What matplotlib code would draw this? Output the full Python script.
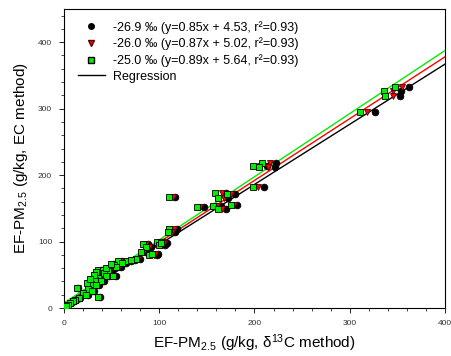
import matplotlib
matplotlib.use("Agg")
import matplotlib.pyplot as plt
from matplotlib.lines import Line2D
from matplotlib.ticker import MultipleLocator

plt.rcParams['font.family'] = ['Liberation Sans', 'DejaVu Sans']
plt.rcParams['mathtext.fontset'] = 'custom'
plt.rcParams['mathtext.rm'] = 'Liberation Sans'
plt.rcParams['mathtext.it'] = 'Liberation Sans:italic'

# EF-PM2.5 by EC method (y) and by d13C method for three end-member values (x)
ec = [332, 326, 319, 295, 218, 212, 213, 182, 167, 173, 165, 172, 153, 149, 155, 152,
      119, 114, 96, 92, 99, 95, 98, 84, 80, 82, 74, 71, 71, 72, 68, 65, 62, 57, 57, 55,
      52, 48, 45, 42, 40, 36, 34, 30, 28, 25, 22, 20, 17, 15, 12, 10, 7, 5, 3, 48, 60, 38,
      54, 50, 44, 66]
x_269 = [362, 354, 353, 326, 223, 222, 213, 210, 117, 170, 172, 180, 165, 170, 182, 147,
         119, 117, 88, 91, 104, 106, 108, 86, 98, 99, 80, 61, 70, 75, 65, 56, 60, 39, 43, 50,
         44, 47, 38, 35, 42, 30, 37, 15, 27, 31, 22, 25, 38, 17, 13, 10, 7, 4, 2, 55, 47, 26,
         36, 33, 29, 52]
x_260 = [355, 345, 345, 318, 216, 214, 206, 204, 114, 166, 168, 175, 161, 166, 179, 143,
         115, 113, 86, 89, 101, 103, 105, 84, 94, 96, 78, 59, 68, 73, 63, 54, 58, 38, 42, 48,
         43, 46, 37, 34, 41, 29, 36, 14.6, 26, 30, 21, 24, 37, 16.5, 12.6, 9.7, 6.8, 3.9, 1.9, 53, 46, 25,
         35, 32, 28, 50]
x_250 = [348, 336, 337, 311, 208, 205, 198, 198, 110, 159, 162, 171, 156, 162, 175, 140,
         110, 109, 83, 86, 98, 100, 102, 81, 89, 92, 76, 57, 66, 70, 61, 52, 55, 36, 41, 46,
         42, 44, 36, 33, 39, 28, 34, 14, 25, 29, 20, 23, 36, 16, 12, 9.4, 6.5, 3.7, 1.8, 51, 44, 24,
         34, 31, 27, 49]

labels = ['-26.9 \u2030 (y=0.85x + 4.53, r\u00b2=0.93)',
          '-26.0 \u2030 (y=0.87x + 5.02, r\u00b2=0.93)',
          '-25.0 \u2030 (y=0.89x + 5.64, r\u00b2=0.93)']
# regression lines as drawn in the chart
line_slopes = [0.905, 0.93, 0.95]
line_intercepts = [5.0, 6.0, 7.5]
line_x = [0, 400]

fig = plt.figure(figsize=(4.52, 3.56), dpi=100)
ax = fig.add_axes([0.1416, 0.1348, 0.8429, 0.84])

line_colors = ['black', 'red', '#00ee00']
for s, b, c in zip(line_slopes, line_intercepts, line_colors):
    ax.plot(line_x, [s * v + b for v in line_x], color=c, lw=1.0, zorder=2)

ax.plot(x_269, ec, 'o', ms=4.8, mfc='black', mec='black', mew=0.6, zorder=3)
ax.plot(x_260, ec, 'v', ms=4.8, mfc='red', mec='#550000', mew=0.6, zorder=4)
ax.plot(x_250, ec, 's', ms=4.8, mfc='#00ee00', mec='black', mew=0.6, zorder=5)

ax.set_xlim(0, 400)
ax.set_ylim(0, 450)
ax.set_xticks([0, 100, 200, 300, 400])
ax.set_yticks([0, 100, 200, 300, 400])
ax.xaxis.set_minor_locator(MultipleLocator(20))
ax.yaxis.set_minor_locator(MultipleLocator(20))
ax.tick_params(which='major', direction='out', length=3.5, width=0.6, labelsize=6,
               labelcolor='#333333', pad=5)
ax.tick_params(which='minor', direction='out', length=2, width=0.5)
ax.tick_params(top=False, right=False)
for sp in ax.spines.values():
    sp.set_linewidth(0.8)

ax.set_xlabel('EF-PM$_{2.5}$ (g/kg, \u03b4$^{13}$C method)', fontsize=11, labelpad=4)
ax.set_ylabel('EF-PM$_{2.5}$ (g/kg, EC method)', fontsize=11, labelpad=6)

handles = [
    Line2D([], [], ls='none', marker='o', ms=4, mfc='black', mec='black'),
    Line2D([], [], ls='none', marker='v', ms=4, mfc='red', mec='#550000'),
    Line2D([], [], ls='none', marker='s', ms=4, mfc='#00ee00', mec='black'),
    Line2D([], [], color='black', lw=1.0),
]
ax.legend(handles, labels + ['Regression'], loc='upper left', frameon=False,
          fontsize=9, bbox_to_anchor=(0.016, 0.985), handlelength=2.2,
          handletextpad=0.65, labelspacing=0.3, borderaxespad=0.2)

fig.savefig('out.png', dpi=100)
